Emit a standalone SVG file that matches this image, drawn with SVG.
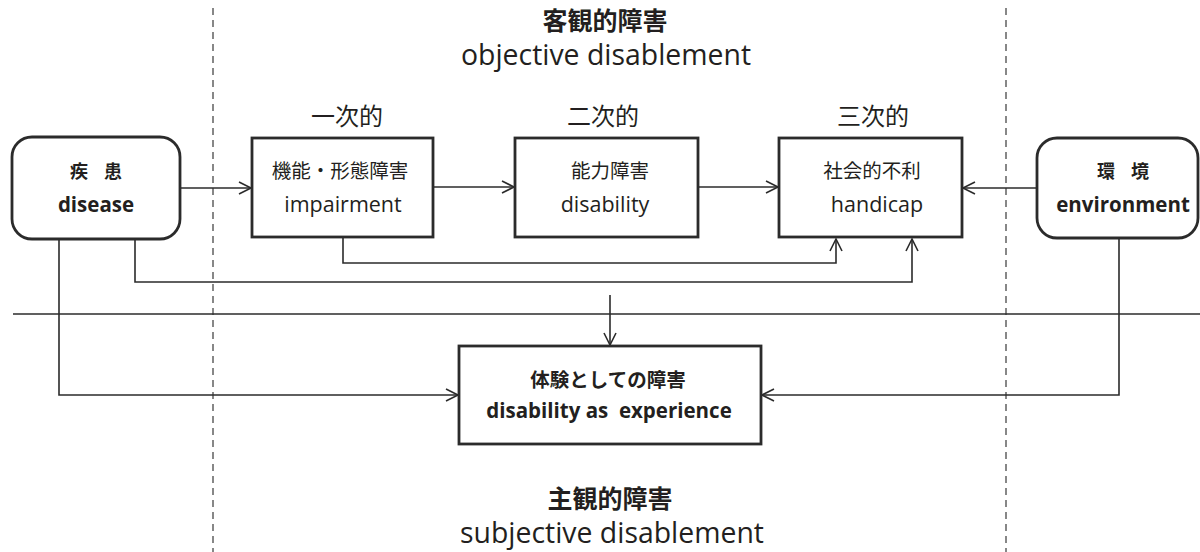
<svg xmlns="http://www.w3.org/2000/svg" width="1200" height="552" viewBox="0 0 1200 552">
<defs>
<style>
.box{fill:#fff;stroke:#2b2b2b;stroke-width:2.8}
.ln{fill:none;stroke:#2b2b2b;stroke-width:1.6}
.arr{marker-end:url(#ah)}
.dash{fill:none;stroke:#555;stroke-width:1.4;stroke-dasharray:7 5}
.t{font-family:"Open Sans","Noto Sans CJK JP",sans-serif;fill:#231f20;text-anchor:middle}
.j{font-family:"Noto Sans CJK JP",sans-serif;fill:#231f20;text-anchor:middle}
.b{font-weight:bold}
</style>
<marker id="ah" markerUnits="userSpaceOnUse" markerWidth="14" markerHeight="14" refX="12" refY="6" orient="auto" overflow="visible">
<path d="M0,0 L12,6 L0,12" fill="none" stroke="#2b2b2b" stroke-width="1.6"/>
</marker>
</defs>
<rect width="1200" height="552" fill="#fff"/>

<g id="guides">
<line class="dash" x1="213" y1="8" x2="213" y2="552"/>
<line class="dash" x1="1006" y1="8" x2="1006" y2="552"/>
<line x1="13" y1="314" x2="1200" y2="314" stroke="#2b2b2b" stroke-width="1.3"/>
</g>

<g id="titles">
<text class="j b" x="605" y="30" font-size="25">客観的障害</text>
<text class="t" x="606" y="65" font-size="28.4">objective disablement</text>
<text class="j" x="347" y="125" font-size="24">一次的</text>
<text class="j" x="603" y="125" font-size="24">二次的</text>
<text class="j" x="873" y="125" font-size="24">三次的</text>
<text class="j b" x="610" y="508" font-size="25">主観的障害</text>
<text class="t" x="612" y="543" font-size="28.4">subjective disablement</text>
</g>

<g id="connectors">
<line class="ln arr" x1="180" y1="188" x2="251" y2="188"/>
<line class="ln arr" x1="433" y1="187" x2="514" y2="187"/>
<line class="ln arr" x1="698" y1="187" x2="778" y2="187"/>
<line class="ln arr" x1="1037" y1="188" x2="963" y2="188"/>
<polyline class="ln arr" points="343,237 343,263 836,263 836,239"/>
<polyline class="ln arr" points="135,239 135,282 912,282 912,239"/>
<line class="ln arr" x1="610" y1="295" x2="610" y2="345"/>
<polyline class="ln arr" points="59,239 59,395 458,395"/>
<polyline class="ln arr" points="1119,238 1119,395 762,395"/>
</g>

<g id="disease">
<rect class="box" x="12" y="137" width="168" height="102" rx="20"/>
<text class="j b" x="96" y="178" font-size="18" word-spacing="12">疾 患</text>
<text class="t b" x="96" y="212" font-size="20.5">disease</text>
</g>

<g id="impairment">
<rect class="box" x="252" y="138" width="181" height="99"/>
<text class="j" x="340" y="178" font-size="19.5">機能・形態障害</text>
<text class="t" x="343" y="212" font-size="21.5">impairment</text>
</g>

<g id="disability">
<rect class="box" x="515" y="138" width="183" height="99"/>
<text class="j" x="610" y="178" font-size="19.5">能力障害</text>
<text class="t" x="605" y="212" font-size="21.5">disability</text>
</g>

<g id="handicap">
<rect class="box" x="779" y="138" width="183" height="99"/>
<text class="j" x="872" y="178" font-size="19.5">社会的不利</text>
<text class="t" x="877" y="212" font-size="21.5">handicap</text>
</g>

<g id="environment">
<rect class="box" x="1037" y="138" width="161" height="100" rx="20"/>
<text class="j b" x="1123" y="178" font-size="18" word-spacing="12">環 境</text>
<text class="t b" x="1123" y="212" font-size="20.5">environment</text>
</g>

<g id="experience">
<rect class="box" x="459" y="346" width="302" height="98"/>
<text class="j b" x="608" y="387" font-size="19.5">体験としての障害</text>
<text class="t b" x="609" y="418" font-size="20.5" xml:space="preserve">disability as  experience</text>
</g>
</svg>
